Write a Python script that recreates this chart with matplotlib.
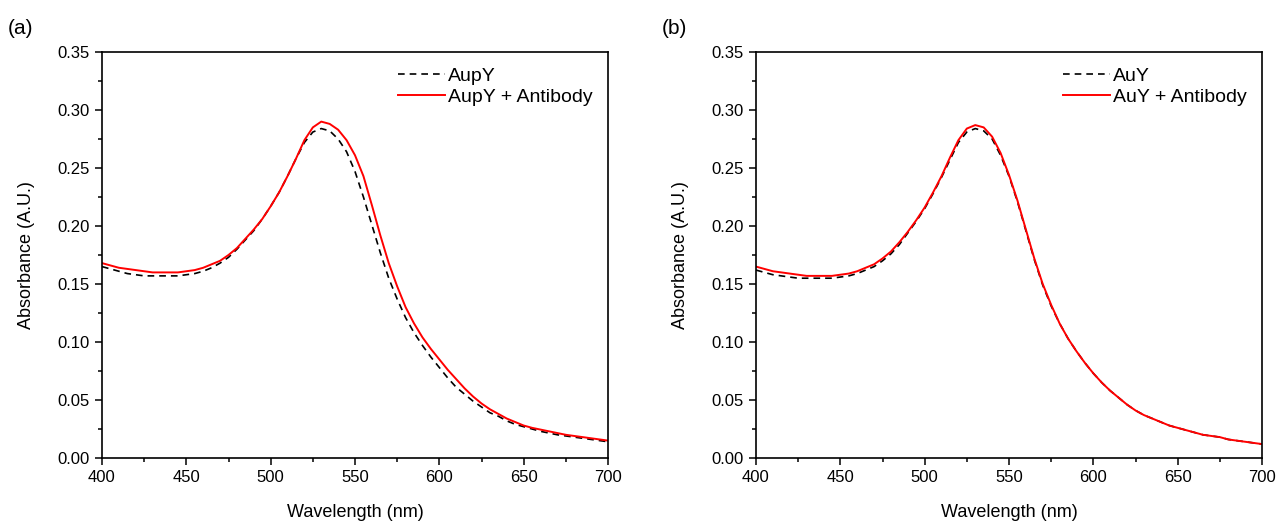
import matplotlib
matplotlib.use("Agg")
import matplotlib.pyplot as plt
from matplotlib.ticker import MultipleLocator

plt.rcParams['font.family'] = ['Liberation Sans', 'DejaVu Sans']

wavelength = list(range(400, 705, 5))

aupy = [0.165, 0.163, 0.161, 0.159, 0.158, 0.157, 0.157, 0.157, 0.157, 0.157,
        0.158, 0.159, 0.161, 0.164, 0.168, 0.173, 0.180, 0.188, 0.196, 0.206,
        0.217, 0.229, 0.243, 0.258, 0.272, 0.281, 0.284, 0.282, 0.275, 0.264,
        0.247, 0.225, 0.201, 0.177, 0.155, 0.137, 0.121, 0.108, 0.097, 0.087,
        0.078, 0.069, 0.061, 0.055, 0.049, 0.044, 0.039, 0.036, 0.032, 0.029,
        0.027, 0.025, 0.023, 0.0215, 0.020, 0.019, 0.018, 0.017, 0.016, 0.015,
        0.014]
aupy_ab = [0.168, 0.166, 0.164, 0.163, 0.162, 0.161, 0.160, 0.160, 0.160, 0.160,
           0.161, 0.162, 0.164, 0.167, 0.170, 0.175, 0.181, 0.189, 0.197, 0.206,
           0.217, 0.229, 0.243, 0.258, 0.274, 0.285, 0.290, 0.288, 0.283, 0.274,
           0.261, 0.243, 0.218, 0.192, 0.168, 0.148, 0.130, 0.116, 0.104, 0.094,
           0.085, 0.076, 0.068, 0.060, 0.053, 0.047, 0.042, 0.038, 0.034, 0.031,
           0.028, 0.026, 0.0245, 0.023, 0.0215, 0.020, 0.019, 0.018, 0.017, 0.016,
           0.015]

auy = [0.162, 0.160, 0.158, 0.157, 0.156, 0.155, 0.155, 0.155, 0.155, 0.155,
       0.156, 0.157, 0.159, 0.162, 0.165, 0.170, 0.176, 0.184, 0.194, 0.204,
       0.215, 0.228, 0.242, 0.257, 0.272, 0.281, 0.284, 0.282, 0.275, 0.261,
       0.243, 0.221, 0.196, 0.171, 0.149, 0.131, 0.116, 0.103, 0.092, 0.082,
       0.073, 0.065, 0.058, 0.052, 0.046, 0.041, 0.037, 0.034, 0.031, 0.028,
       0.026, 0.024, 0.022, 0.020, 0.019, 0.018, 0.016, 0.015, 0.014, 0.013,
       0.012]
auy_ab = [0.165, 0.163, 0.161, 0.160, 0.159, 0.158, 0.157, 0.157, 0.157, 0.157,
          0.158, 0.159, 0.161, 0.164, 0.167, 0.172, 0.178, 0.186, 0.195, 0.205,
          0.216, 0.229, 0.243, 0.259, 0.274, 0.284, 0.287, 0.285, 0.277, 0.263,
          0.244, 0.222, 0.197, 0.172, 0.150, 0.132, 0.116, 0.103, 0.092, 0.082,
          0.073, 0.065, 0.058, 0.052, 0.046, 0.041, 0.037, 0.034, 0.031, 0.028,
          0.026, 0.024, 0.022, 0.020, 0.019, 0.018, 0.016, 0.015, 0.014, 0.013,
          0.012]

panels = [("(a)", "AupY", aupy, "AupY + Antibody", aupy_ab),
          ("(b)", "AuY", auy, "AuY + Antibody", auy_ab)]

fig = plt.figure(figsize=(12.76, 5.21), dpi=100)
lefts = [102 / 1276, 756 / 1276]
for left, (tag, lab1, y1, lab2, y2) in zip(lefts, panels):
    ax = fig.add_axes([left, 1 - 458 / 521, 506 / 1276, 406 / 521])
    ax.plot(wavelength, y1, color="black", ls=(0, (4, 3)), lw=1.2, label=lab1)
    ax.plot(wavelength, y2, color="red", lw=1.4, label=lab2)
    ax.set_xlim(400, 700)
    ax.set_ylim(0, 0.35)
    ax.xaxis.set_major_locator(MultipleLocator(50))
    ax.xaxis.set_minor_locator(MultipleLocator(25))
    ax.yaxis.set_major_locator(MultipleLocator(0.05))
    ax.yaxis.set_minor_locator(MultipleLocator(0.025))
    ax.yaxis.set_major_formatter(plt.FormatStrFormatter("%.2f"))
    ax.tick_params(which="both", direction="out", top=False, right=False,
                   labelsize=12, width=1.1, pad=4)
    ax.tick_params(which="major", length=5)
    ax.tick_params(which="minor", length=3)
    for s in ax.spines.values():
        s.set_linewidth(1.2)
    ax.set_xlabel("Wavelength (nm)", fontsize=13, labelpad=13)
    ax.set_ylabel("Absorbance (A.U.)", fontsize=13, labelpad=16)
    ax.legend(loc="upper right", frameon=False, fontsize=14, handlelength=2.4,
              handletextpad=0.15, labelspacing=0.15, borderaxespad=0.4)
    fig.text(left - 94 / 1276, 1 - 28 / 521, tag, fontsize=15, va="center")

fig.savefig("out.png", dpi=100)
